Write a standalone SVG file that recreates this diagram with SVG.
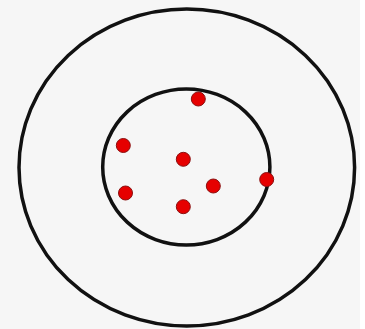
<svg xmlns="http://www.w3.org/2000/svg" width="365" height="329" viewBox="0 0 365 329">
<style>
.ring{fill:none;stroke:#111;stroke-width:3.5}
.dot{fill:#e60000;stroke:#8a1010;stroke-width:1}
</style>
<rect width="365" height="329" fill="#f6f6f6"/>
<rect x="360" width="5" height="329" fill="#ffffff"/>
<g id="outer"><ellipse class="ring" cx="186.8" cy="167.5" rx="167.8" ry="158.5"/></g>
<g id="inner"><ellipse class="ring" cx="186.3" cy="167" rx="83.6" ry="78"/></g>
<g id="dots">
<circle class="dot" cx="198.3" cy="99" r="7"/>
<circle class="dot" cx="123.3" cy="145.5" r="7"/>
<circle class="dot" cx="183.3" cy="159.3" r="7"/>
<circle class="dot" cx="125.5" cy="193" r="7"/>
<circle class="dot" cx="213.3" cy="186" r="7"/>
<circle class="dot" cx="266.7" cy="179.5" r="7"/>
<circle class="dot" cx="183.3" cy="206.7" r="7"/>
</g>
</svg>
